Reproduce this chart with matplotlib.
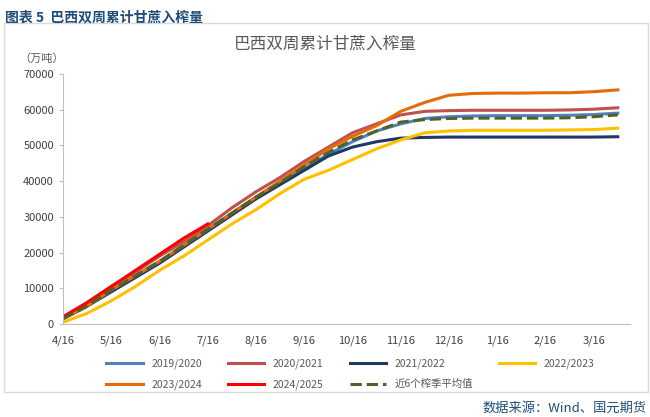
import matplotlib.pyplot as plt
from matplotlib.patches import Rectangle

plt.rcParams["font.family"] = ["Noto Sans CJK SC", "DejaVu Sans"]

tick_labels = ["4/16", "5/16", "6/16", "7/16", "8/16", "9/16", "10/16", "11/16", "12/16", "1/16", "2/16", "3/16"]

s2019 = [1.5, 5, 9.5, 13.5, 17.5, 22, 26.5, 31, 35.5, 39.5, 43.5, 47.5, 51, 54, 56, 57.5, 58, 58.2, 58.3, 58.3, 58.3, 58.4, 58.6, 59]
s2020 = [2, 6, 10.5, 14.5, 19, 23, 27.5, 32.5, 37, 41, 45.5, 49.5, 53.5, 56, 58.5, 59.5, 59.7, 59.8, 59.8, 59.8, 59.8, 59.9, 60.1, 60.5]
s2021 = [1.5, 5, 9, 13, 17, 21.5, 26, 30.5, 35, 39, 43, 47, 49.5, 51, 52, 52.2, 52.3, 52.3, 52.3, 52.3, 52.3, 52.3, 52.3, 52.4]
s2022 = [0.5, 3, 6.5, 10.5, 15, 19, 23.5, 28, 32, 36.5, 40.5, 43, 46, 49, 51.5, 53.5, 54, 54.2, 54.2, 54.2, 54.2, 54.3, 54.4, 54.8]
s2023 = [1.5, 5, 9.5, 13.5, 17.5, 22, 26.5, 31, 35.5, 40, 44.5, 49, 52.5, 55.5, 59.5, 62, 64, 64.5, 64.6, 64.6, 64.7, 64.7, 65, 65.5]
s2024 = [2, 6, 10.5, 15, 19.5, 24, 28]
avg6 = [1.5, 5, 9.5, 13.5, 17.5, 22, 26.5, 31, 35.5, 39.5, 44, 48, 51.5, 54, 56.5, 57.2, 57.5, 57.6, 57.6, 57.6, 57.6, 57.7, 58, 58.5]

series = [
    ("2019/2020", s2019, "#4f81bd", "-"),
    ("2020/2021", s2020, "#c0504d", "-"),
    ("2021/2022", s2021, "#1f3864", "-"),
    ("2022/2023", s2022, "#ffc000", "-"),
    ("2023/2024", s2023, "#e36c09", "-"),
    ("2024/2025", s2024, "#ff0000", "-"),
    ("近6个榨季平均值", avg6, "#4f6228", "--"),
]

fig = plt.figure(figsize=(6.5, 4.17), dpi=100)
fig.add_artist(Rectangle((4 / 650, 1 - 392 / 417), 644 / 650, 369 / 417, transform=fig.transFigure,
                         fill=False, edgecolor="#d9d9d9", lw=1))
fig.text(0.008, 0.975, "图表 5  巴西双周累计甘蔗入榨量", color="#1f4e79", fontsize=10, fontweight="bold", va="top")
fig.text(0.995, 0.005, "数据来源：Wind、国元期货", color="#1f4e79", fontsize=9.5, ha="right", va="bottom")
fig.text(0.5, 0.895, "巴西双周累计甘蔗入榨量", color="#595959", fontsize=12, ha="center", va="center")
fig.text(0.03, 0.86, "（万吨）", color="#595959", fontsize=8, va="center")

ax = fig.add_axes([0.097, 0.223, 0.872, 0.6])
lines = []
for name, vals, c, ls in series:
    ln, = ax.plot(range(len(vals)), [v * 1000 for v in vals], color=c, ls=ls, lw=2.2, label=name)
    lines.append(ln)

ax.set_xlim(0, 23.5)
ax.set_ylim(0, 70000)
ax.set_xticks(range(0, 24, 2))
ax.set_xticklabels(tick_labels)
ax.set_yticks(range(0, 70001, 10000))
for s in ["top", "right"]:
    ax.spines[s].set_visible(False)
for s in ["left", "bottom"]:
    ax.spines[s].set_color("#bfbfbf")
ax.tick_params(axis="y", length=3, color="#bfbfbf", labelsize=8, labelcolor="#404040")
ax.tick_params(axis="x", length=0, labelsize=8, labelcolor="#404040", pad=8)

# legend is filled column-wise, reorder so it reads row-wise
order = [0, 4, 1, 5, 2, 6, 3]
ax.legend([lines[i] for i in order], [series[i][0] for i in order],
          loc="upper left", bbox_to_anchor=(0.06, -0.1), ncol=4, frameon=False, fontsize=7.5,
          handlelength=3.5, columnspacing=2.5, labelspacing=1.0, labelcolor="#595959")

fig.savefig("out.png", dpi=100)
